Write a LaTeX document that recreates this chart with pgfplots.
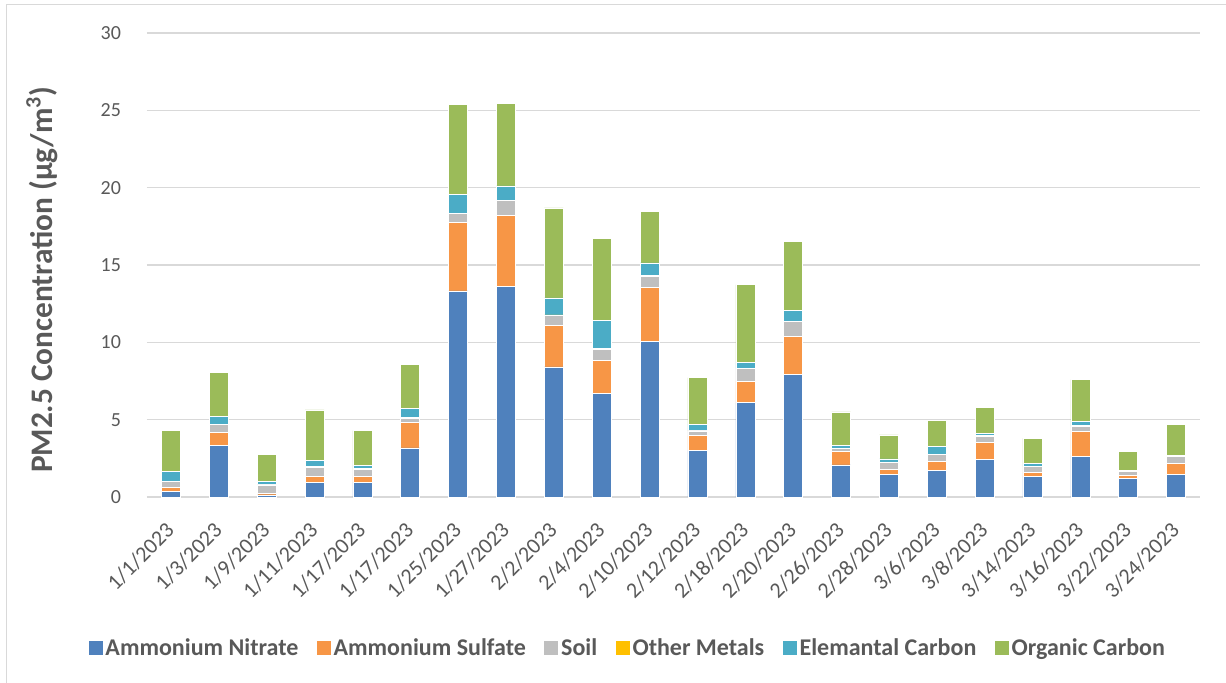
\documentclass[border=0pt]{standalone}
\usepackage{fontspec}
\setmainfont{Carlito}
\usepackage{pgfplots}
\pgfplotsset{compat=1.18}
\usepackage{pgfplotstable}
\definecolor{cAN}{HTML}{4F81BD}
\definecolor{cAS}{HTML}{F79646}
\definecolor{cSoil}{HTML}{BFBFBF}
\definecolor{cOM}{HTML}{FFC000}
\definecolor{cEC}{HTML}{4BACC6}
\definecolor{cOC}{HTML}{9BBB59}
\definecolor{cGrid}{HTML}{D9D9D9}
\definecolor{cText}{HTML}{595959}
\pgfplotstableread{
x AN AS Soil OM EC OC
0 0.37 0.26 0.36 0.02 0.65 2.63
1 3.34 0.86 0.48 0.02 0.52 2.84
2 0.13 0.09 0.56 0.02 0.23 1.71
3 0.97 0.37 0.60 0.02 0.43 3.24
4 0.95 0.39 0.43 0.06 0.22 2.24
5 3.17 1.66 0.26 0.04 0.62 2.83
6 13.32 4.44 0.58 0.02 1.19 5.82
7 13.62 4.59 0.95 0.02 0.93 5.32
8 8.41 2.69 0.62 0.05 1.11 5.82
9 6.72 2.12 0.71 0.04 1.81 5.31
10 10.06 3.50 0.71 0.04 0.82 3.36
11 3.00 0.99 0.28 0.02 0.43 3.00
12 6.10 1.40 0.80 0.02 0.39 5.02
13 7.95 2.44 0.95 0.02 0.71 4.48
14 2.07 0.88 0.18 0.02 0.19 2.16
15 1.47 0.32 0.43 0.02 0.22 1.55
16 1.72 0.59 0.43 0.02 0.52 1.66
17 2.44 1.09 0.40 0.06 0.11 1.68
18 1.34 0.25 0.37 0.02 0.18 1.63
19 2.63 1.62 0.34 0.02 0.26 2.72
20 1.21 0.17 0.30 0.02 0.02 1.23
21 1.47 0.71 0.45 0.02 0.02 2.01
}\datatable
\begin{document}
\begin{tikzpicture}
\path[use as bounding box] (-110.25pt,-138.75pt) rectangle (809.25pt,372.75pt);
\draw[cGrid, line width=0.75pt] (-105pt,-150pt) rectangle (820pt,369pt);
\begin{axis}[
  at={(0pt,0pt)}, anchor=south west,
  scale only axis, width=789.75pt, height=348pt,
  ybar stacked, bar width=14.25pt,
  xmin=-0.5, xmax=21.5, ymin=0, ymax=30,
  ytick={0,5,...,30},
  xtick={0,...,21},
  xticklabels={1/1/2023,1/3/2023,1/9/2023,1/11/2023,1/17/2023,1/17/2023,1/25/2023,1/27/2023,2/2/2023,2/4/2023,2/10/2023,2/12/2023,2/18/2023,2/20/2023,2/26/2023,2/28/2023,3/6/2023,3/8/2023,3/14/2023,3/16/2023,3/22/2023,3/24/2023},
  major tick length=0pt,
  axis line style={draw=none},
  ymajorgrids, grid style={cGrid, line width=0.9pt},
  /pgf/number format/assume math mode=true,
  tick label style={text=cText},
  yticklabel style={font=\fontsize{15}{18}\selectfont, xshift=-16pt},
  xticklabel style={font=\fontsize{16.5}{19}\selectfont, xshift=2pt, yshift=-20pt, rotate=45, anchor=east},
  ylabel={PM2.5 Concentration (µg/m\textsuperscript{3})},
  ylabel style={font=\fontsize{23.5}{28}\selectfont\bfseries, text=cText, rotate=0, at={(axis description cs:-0.0997,0.468)}, anchor=center},
  legend columns=-1,
  legend style={draw=none, font=\fontsize{18}{21}\selectfont\bfseries, text=cText, at={(axis description cs:0.457,-0.325)}, anchor=center, /tikz/every even column/.append style={column sep=12pt}},
  legend image code/.code={\path[#1, draw=none] (0pt,-5.25pt) rectangle (10.5pt,5.25pt);},
  every axis plot/.append style={draw=white, line width=0.4pt},
]
\addplot[fill=cAN] table[x=x,y=AN]{\datatable};
\addplot[fill=cAS] table[x=x,y=AS]{\datatable};
\addplot[fill=cSoil] table[x=x,y=Soil]{\datatable};
\addplot[fill=cOM] table[x=x,y=OM]{\datatable};
\addplot[fill=cEC] table[x=x,y=EC]{\datatable};
\addplot[fill=cOC] table[x=x,y=OC]{\datatable};
\legend{Ammonium Nitrate,Ammonium Sulfate,Soil,Other Metals,Elemantal Carbon,Organic Carbon}
\end{axis}
\end{tikzpicture}
\end{document}
